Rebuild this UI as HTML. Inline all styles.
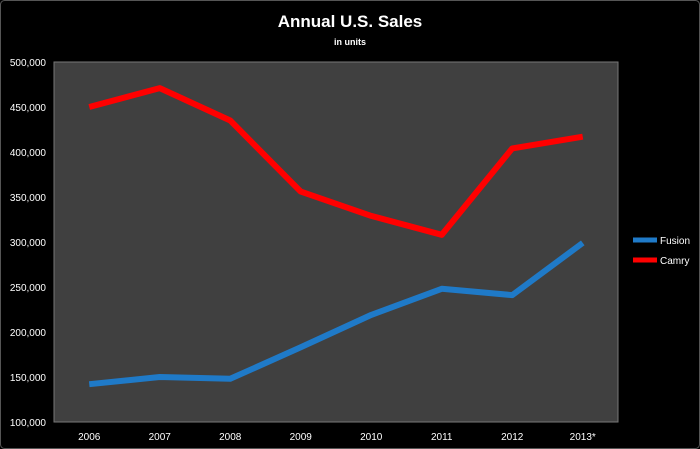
<!DOCTYPE html>
<html><head><meta charset="utf-8"><style>
html,body{margin:0;padding:0;background:#000;}
svg{display:block;font-family:"Liberation Sans",sans-serif;}
</style></head><body>
<svg id="chart" width="700" height="449">
<rect x="0.5" y="0.5" width="699" height="448" rx="4" fill="#000" stroke="#555"/>
<text x="350" y="27" text-anchor="middle" fill="#fff" font-size="17" font-weight="bold">Annual U.S. Sales</text>
<text x="350" y="45" text-anchor="middle" fill="#fff" font-size="9" font-weight="bold">in units</text>
<rect x="54" y="62" width="564" height="360" fill="#404040" stroke="#777"/>
<g id="yticks"></g><g id="xticks"></g><g id="lines"></g>
<g>
<line x1="633" y1="240" x2="657" y2="240" stroke="#1f7ac8" stroke-width="5"/>
<text x="660" y="244" fill="#fff" font-size="10">Fusion</text>
<line x1="633" y1="260" x2="657" y2="260" stroke="#ff0000" stroke-width="5"/>
<text x="660" y="264" fill="#fff" font-size="10">Camry</text>
</g>
</svg>
<script>
const categories=["2006","2007","2008","2009","2010","2011","2012","2013*"];
const camry=[450000,471000,435000,356000,329000,308000,404000,417000];
const fusion=[142000,150000,148000,183000,219000,248000,241000,299000];
const yTicks=[100000,150000,200000,250000,300000,350000,400000,450000,500000];
const NS="http://www.w3.org/2000/svg";
const L=54,R=618,T=62,B=422,yMin=100000,yMax=500000;
function xPos(i){return L+(R-L)/categories.length*(i+0.5);}
function yPos(v){return B-(v-yMin)/(yMax-yMin)*(B-T);}
const yg=document.getElementById('yticks');
yTicks.forEach(v=>{const t=document.createElementNS(NS,'text');
t.setAttribute('x',46);t.setAttribute('y',yPos(v)+4);t.setAttribute('text-anchor','end');
t.setAttribute('fill','#fff');t.setAttribute('font-size','10');t.textContent=v.toLocaleString('en-US');


yg.appendChild(t);});
const xg=document.getElementById('xticks');
categories.forEach((c,i)=>{const t=document.createElementNS(NS,'text');
t.setAttribute('x',xPos(i));t.setAttribute('y',440);t.setAttribute('text-anchor','middle');
t.setAttribute('fill','#fff');t.setAttribute('font-size','10');t.textContent=c;


xg.appendChild(t);});
const lg=document.getElementById('lines');
[[fusion,'#1f7ac8','fusion-line'],[camry,'#ff0000','camry-line']].forEach(([d,c,n])=>{
const p=document.createElementNS(NS,'polyline');
p.setAttribute('points',d.map((v,i)=>xPos(i)+','+yPos(v)).join(' '));
p.setAttribute('fill','none');p.setAttribute('stroke',c);p.setAttribute('stroke-width','6');
p.setAttribute('stroke-linejoin','round');


lg.appendChild(p);});
</script>
</body></html>
